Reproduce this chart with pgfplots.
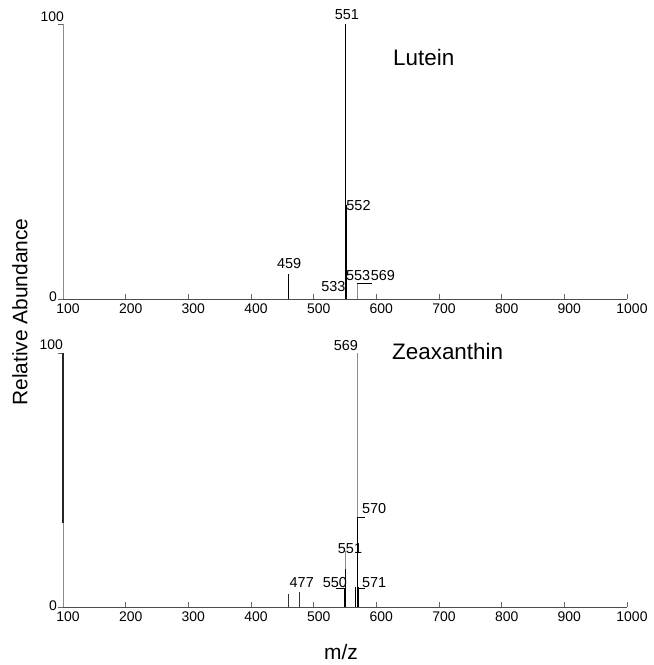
\documentclass[border=0pt]{standalone}
\usepackage{pgfplots}
\pgfplotsset{compat=1.18}
\usepackage{fontspec}
\setmainfont{Liberation Sans}
\newcommand{\tl}{\fontsize{14}{15}\selectfont}
\newcommand{\pl}{\fontsize{14.5}{15}\selectfont}
\newcommand{\bl}{\fontsize{21}{22}\selectfont}
\newcommand{\ttl}{\fontsize{22.5}{23}\selectfont}
\tikzset{lab/.style={font=\pl, inner sep=0pt}}
\begin{document}
\begin{tikzpicture}[x=1bp,y=1bp]
\useasboundingbox (0bp,0bp) rectangle (654bp,665bp);
\pgfplotsset{
 ms/.style={
  scale only axis, width=564bp,
  xmin=100, xmax=1000, ymin=0, ymax=100,
  axis x line=bottom, axis y line=left,
  axis line style={draw=black!70, line width=0.7pt, -},
  xtick={100,200,...,1000}, ytick={0,100}, yticklabels={},
  xtick align=inside, ytick align=outside, major tick length=5bp,
  tick style={black!60, line width=0.6pt},
  xticklabel style={font=\tl, inner sep=0pt, anchor=north, yshift=-5bp, xshift=5bp},
  /pgf/number format/assume math mode=true,
  /pgf/number format/1000 sep={},
  clip=false,
 },
}
% ---------- Lutein ----------
\begin{axis}[ms, height=275bp, at={(63bp,366bp)}, anchor=south west]
\addplot[black!45, line width=0.6pt] coordinates {(100,0) (100,100)};
\addplot[ycomb, black, line width=0.9pt] coordinates {(459,9) (551,100) (553,5)};
\addplot[ycomb, black, line width=1.6pt] coordinates {(552,34)};
\addplot[ycomb, black!45, line width=0.8pt] coordinates {(569,5.8)};
\addplot[black, line width=0.6pt] coordinates {(569,5.8) (593,5.8)};
\node[lab, anchor=south] at (axis cs:553,101.5) {551};
\node[lab, anchor=west] at (axis cs:552,34) {552};
\node[lab, anchor=south] at (axis cs:461,11) {459};
\node[lab, anchor=west] at (axis cs:551.5,8.7) {553};
\node[lab, anchor=west] at (axis cs:591,8.7) {569};
\node[lab, anchor=east] at (axis cs:551,4.7) {533};
\end{axis}
% ---------- Zeaxanthin ----------
\begin{axis}[ms, height=254bp, at={(63bp,58bp)}, anchor=south west]
\addplot[black!45, line width=0.6pt] coordinates {(100,0) (100,100)};
\addplot[black!85, line width=1.3pt] coordinates {(100,33) (100,100)};
\addplot[ycomb, black!80, line width=0.6pt] coordinates {(459,5) (477,6)};
\addplot[ycomb, black!45, line width=0.8pt] coordinates {(550,22) (569,100)};
\addplot[ycomb, black, line width=1.3pt] coordinates {(549,7.5) (551,15) (567,8) (570,35) (571,8)};
\addplot[black, line width=0.6pt] coordinates {(569,35.4) (582,35.4)};
\addplot[black, line width=0.6pt] coordinates {(549,7.5) (536,7.5)};
\addplot[black, line width=0.6pt] coordinates {(571,7.5) (582,7.5)};
\node[lab, anchor=south] at (axis cs:551.5,101) {569};
\node[lab, anchor=west] at (axis cs:577,38.6) {570};
\node[lab, anchor=south] at (axis cs:558,21) {551};
\node[lab] at (axis cs:481,9.8) {477};
\node[lab] at (axis cs:534,9.8) {550};
\node[lab, anchor=west] at (axis cs:577,9.8) {571};
\end{axis}
% ---------- tick labels of y ----------
\node[font=\tl, inner sep=0pt, anchor=east] at (64bp,648bp) {100};
\node[font=\tl, inner sep=0pt, anchor=east] at (57bp,368bp) {0};
\node[font=\tl, inner sep=0pt, anchor=east] at (63bp,320bp) {100};
\node[font=\tl, inner sep=0pt, anchor=east] at (57bp,59bp) {0};
% ---------- titles ----------
\node[font=\ttl, inner sep=0pt, anchor=west] at (393bp,608bp) {Lutein};
\node[font=\ttl, inner sep=0pt, anchor=west] at (392bp,314bp) {Zeaxanthin};
\node[font=\bl, inner sep=0pt, rotate=90] at (20bp,353bp) {Relative Abundance};
\node[font=\bl, inner sep=0pt] at (341bp,13bp) {m/z};
\end{tikzpicture}
\end{document}
